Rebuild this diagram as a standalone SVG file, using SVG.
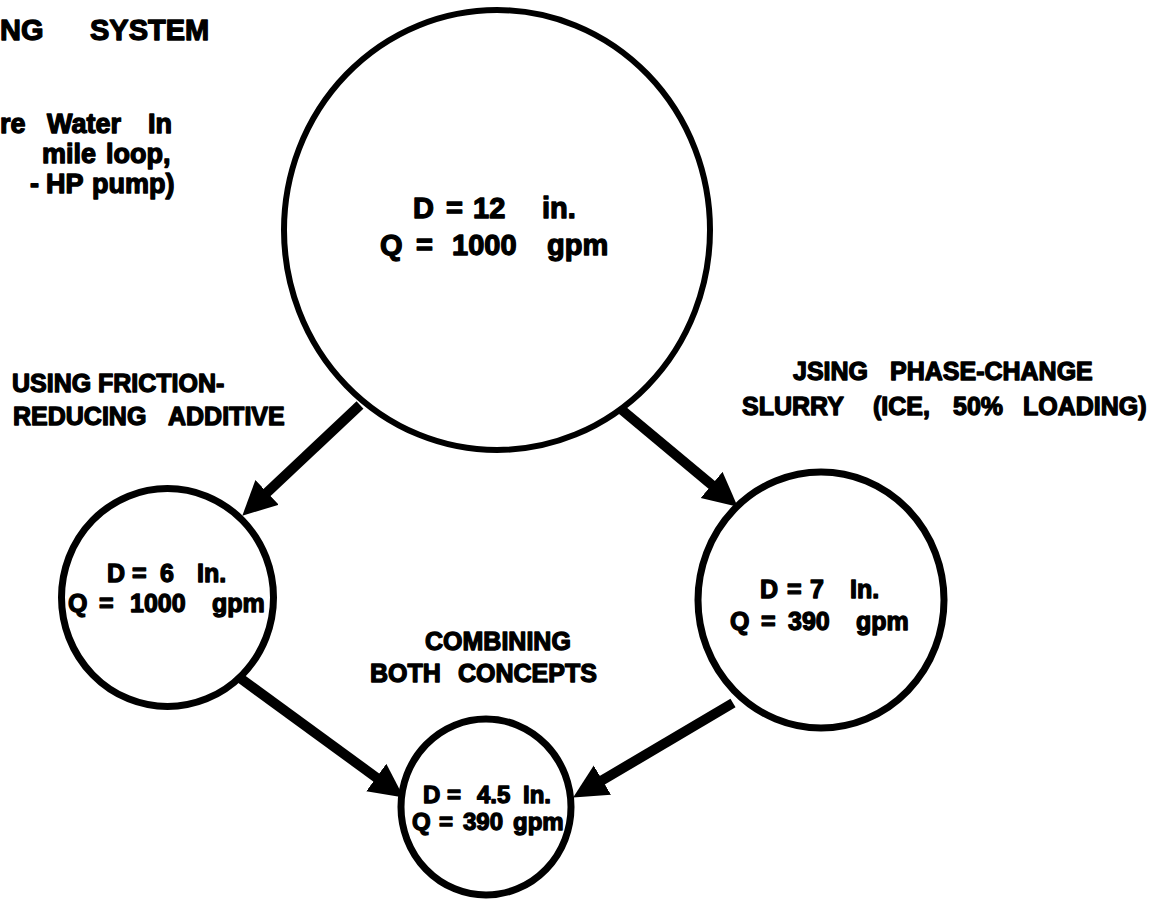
<svg xmlns="http://www.w3.org/2000/svg" width="1166" height="901" viewBox="0 0 1166 901">
<style>
  .t { font-family: "Liberation Sans", Arial, Helvetica, sans-serif; font-weight: bold; fill: #000; stroke: #000; stroke-width: 1.3; stroke-linejoin: round; }
  .node { fill: none; stroke: #000; stroke-width: 7; }
  .conn { stroke: #000; stroke-width: 10; fill: none; }
</style>
<defs>
  <marker id="ah" markerUnits="userSpaceOnUse" markerWidth="36" markerHeight="36" refX="13" refY="17" orient="auto" viewBox="0 0 36 36">
    <path d="M0,0 L34,17 L0,34 Z" fill="#000"/>
  </marker>
</defs>
<rect width="1166" height="901" fill="#fff"/>

<g id="title-text">
  <text class="t" font-size="29" y="40"><tspan x="0">NG</tspan><tspan x="90">SYSTEM</tspan></text>
  <text class="t" font-size="27" y="133"><tspan x="0">re</tspan><tspan x="47">Water</tspan><tspan x="148">In</tspan></text>
  <text class="t" font-size="27" y="163"><tspan x="42">mile</tspan><tspan x="106">loop,</tspan></text>
  <text class="t" font-size="27" y="193"><tspan x="30">-</tspan><tspan x="46">HP</tspan><tspan x="92">pump)</tspan></text>
</g>

<g id="connectors">
  <path class="conn" d="M360,405 L257.6,501.3" marker-end="url(#ah)"/>
  <path class="conn" d="M622,410 L721.6,493.2" marker-end="url(#ah)"/>
  <path class="conn" d="M240,678 L386.8,785.2" marker-end="url(#ah)"/>
  <path class="conn" d="M733,703 L591.2,786.8" marker-end="url(#ah)"/>
</g>

<g id="node-main">
  <ellipse class="node" cx="497" cy="230" rx="213" ry="220" style="stroke-width:6"/>
  <text class="t" font-size="29" y="218"><tspan x="413">D</tspan><tspan x="446">=</tspan><tspan x="473">12</tspan><tspan x="542">in.</tspan></text>
  <text class="t" font-size="29" y="255"><tspan x="380">Q</tspan><tspan x="416">=</tspan><tspan x="452">1000</tspan><tspan x="547">gpm</tspan></text>
</g>

<g id="node-additive">
  <ellipse class="node" cx="167.5" cy="597.5" rx="106" ry="109"/>
  <text class="t" font-size="25" y="582"><tspan x="107">D</tspan><tspan x="132">=</tspan><tspan x="160">6</tspan><tspan x="197">In.</tspan></text>
  <text class="t" font-size="25" y="612"><tspan x="68">Q</tspan><tspan x="99">=</tspan><tspan x="130">1000</tspan><tspan x="212">gpm</tspan></text>
</g>

<g id="node-slurry">
  <ellipse class="node" cx="821" cy="600" rx="123" ry="128"/>
  <text class="t" font-size="25" y="598"><tspan x="760">D</tspan><tspan x="787">=</tspan><tspan x="810">7</tspan><tspan x="850">In.</tspan></text>
  <text class="t" font-size="25" y="630"><tspan x="730">Q</tspan><tspan x="761">=</tspan><tspan x="788">390</tspan><tspan x="856">gpm</tspan></text>
</g>

<g id="node-combined">
  <ellipse class="node" cx="486" cy="807" rx="85" ry="88"/>
  <text class="t" font-size="24" y="803"><tspan x="423">D</tspan><tspan x="447">=</tspan><tspan x="477">4.5</tspan><tspan x="523">In.</tspan></text>
  <text class="t" font-size="24" y="830"><tspan x="412">Q</tspan><tspan x="439">=</tspan><tspan x="463">390</tspan><tspan x="513">gpm</tspan></text>
</g>

<g id="labels">
  <text class="t" font-size="25" y="392"><tspan x="12">USING</tspan><tspan x="98">FRICTION-</tspan></text>
  <text class="t" font-size="25" y="425"><tspan x="13">REDUCING</tspan><tspan x="168">ADDITIVE</tspan></text>
  <text class="t" font-size="25" y="380"><tspan x="793">JSING</tspan><tspan x="890">PHASE-CHANGE</tspan></text>
  <text class="t" font-size="25" y="415"><tspan x="742">SLURRY</tspan><tspan x="873">(ICE,</tspan><tspan x="953">50%</tspan><tspan x="1023">LOADING)</tspan></text>
  <text class="t" font-size="25" y="650"><tspan x="425">COMBINING</tspan></text>
  <text class="t" font-size="25" y="682"><tspan x="370">BOTH</tspan><tspan x="458">CONCEPTS</tspan></text>
</g>
</svg>
